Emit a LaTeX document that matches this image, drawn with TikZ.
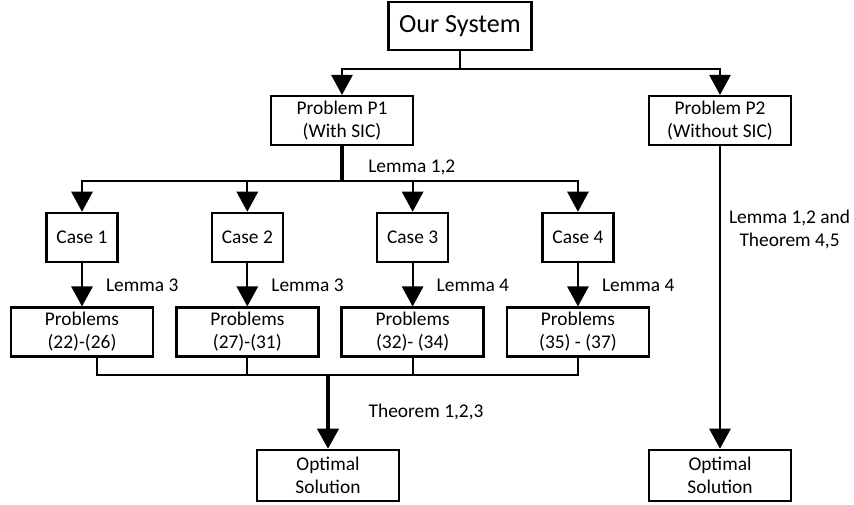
\documentclass[tikz,border=0pt]{standalone}
\usepackage{fontspec}
\setmainfont{Carlito}
\usepackage{tikz}
\usetikzlibrary{shapes,arrows.meta}
\usetikzlibrary{positioning}
\tikzstyle{box} = [draw, rectangle, on grid, line width=1.8pt, align=center,
    minimum width=3.55cm, minimum height=1.2cm, font=\fontsize{13.8}{16.4}\selectfont]
\tikzstyle{casebox} = [box, minimum width=1.775cm, minimum height=1.225cm]
\tikzstyle{lbl} = [inner sep=0pt, align=center, font=\fontsize{13.8}{16.4}\selectfont]
\tikzstyle{wire} = [line width=1.5pt]
\tikzstyle{wirearr} = [wire, -{Triangle[length=0.5cm,width=0.53cm]}]

\begin{document}
\begin{tikzpicture}[node distance = 3cm]
  \useasboundingbox (0,0) rectangle (21.35,-12.6);
  \node [box, minimum width=3.575cm, font=\fontsize{18.6}{20}\selectfont] (sys) at (11.5,-0.65)
  {Our System};
  \node [box, below left=2.3625cm and 2.95cm of sys] (p1)
  {Problem P1\\(With SIC)};
  \node [box, right=9.45cm of p1] (p2)
  {Problem P2\\(Without SIC)};
  \node [casebox, below left=2.925cm and 6.5cm of p1] (c1) {Case 1};
  \node [casebox, right=4.133cm of c1] (c2) {Case 2};
  \node [casebox, right=4.133cm of c2] (c3) {Case 3};
  \node [casebox, right=4.133cm of c3] (c4) {Case 4};
  \node [box, below=2.3625cm of c1] (pb1) {Problems\\(22)-(26)};
  \node [box, below=2.3625cm of c2] (pb2) {Problems\\(27)-(31)};
  \node [box, below=2.3625cm of c3] (pb3) {Problems\\(32)- (34)};
  \node [box, below=2.3625cm of c4] (pb4) {Problems\\(35) - (37)};
  \node [box, minimum height=1.275cm, below=8.875cm of p2] (o2) {Optimal\\Solution};
  \node [box, minimum height=1.275cm, left=9.8cm of o2] (o1) {Optimal\\Solution};
  \coordinate (top) at ([yshift=-0.45cm]sys.south);
  \coordinate (fork) at ([yshift=-0.875cm]p1.south);
  \coordinate (mrg) at ([xshift=0.375cm,yshift=-0.425cm]pb1.south);
  % top split
  \draw [wire] (sys.south) -- (top);
  \draw [wirearr] (top) -| (p1.north);
  \draw [wirearr] (top) -| (p2.north);
  % cases
  \draw [wire, line width=2.2pt] (p1.south) -- (fork);
  \draw [wirearr] (fork) -| (c1.north);
  \draw [wirearr] (fork) -| (c2.north);
  \draw [wirearr] (fork) -| (c3.north);
  \draw [wirearr] (fork) -| (c4.north);
  \node [lbl, anchor=west] (l12) at ([xshift=0.65cm,yshift=0.35cm]fork) {Lemma 1,2};
  \draw [wirearr] (c1) -- node[lbl, right=0.575cm] {Lemma 3} (pb1);
  \draw [wirearr] (c2) -- node[lbl, right=0.575cm] {Lemma 3} (pb2);
  \draw [wirearr] (c3) -- node[lbl, right=0.575cm] {Lemma 4} (pb3);
  \draw [wirearr] (c4) -- node[lbl, right=0.575cm] {Lemma 4} (pb4);
  % merge
  \draw [wire] (pb1.south -| mrg) -- (mrg) -| (pb4.south);
  \draw [wire] (pb2.south) -- (pb2.south |- mrg);
  \draw [wire] (pb3.south) -- (pb3.south |- mrg);
  \draw [wirearr, line width=2.4pt] (o1.north |- mrg) -- node[lbl, right=0.975cm] {Theorem 1,2,3} (o1.north);
  \draw [wirearr] (p2) -- node[lbl, pos=0.275, right=0.2cm] {Lemma 1,2 and\\Theorem 4,5} (o2);
\end{tikzpicture}
\end{document}
